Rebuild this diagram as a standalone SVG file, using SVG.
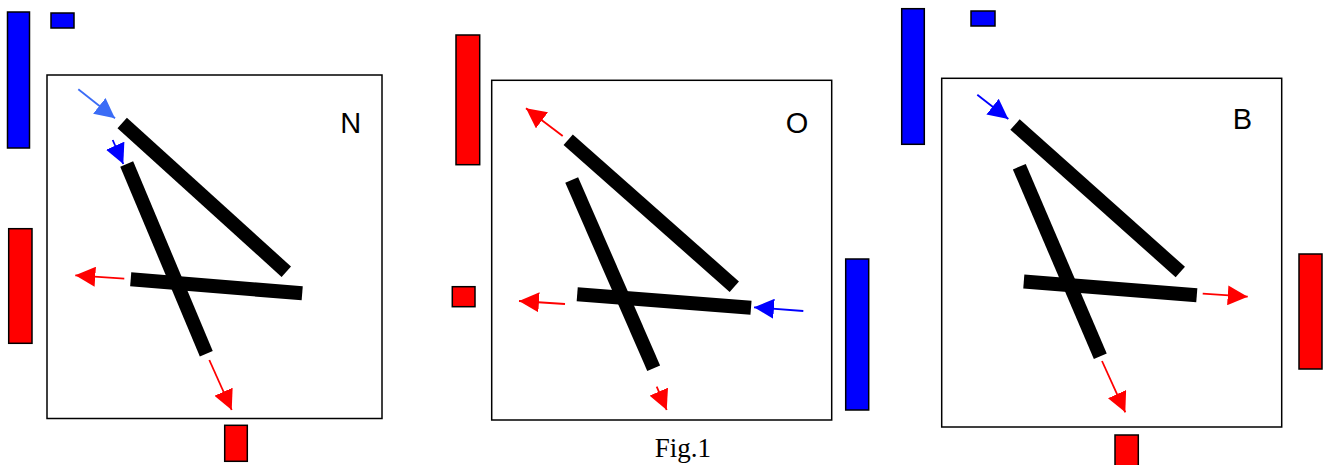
<svg xmlns="http://www.w3.org/2000/svg" width="1325" height="465" viewBox="0 0 1325 465">
<style>
.frame{fill:#fff;stroke:#000;stroke-width:1.5}
.rr{fill:#f00;stroke:#000;stroke-width:1.5}
.rb{fill:#00f;stroke:#000;stroke-width:1.5}
.bar{stroke:#000;stroke-width:14;stroke-linecap:butt;fill:none}
.ar{stroke:#f00;stroke-width:1.8;fill:none;marker-end:url(#hr)}
.ab{stroke:#00f;stroke-width:1.8;fill:none;marker-end:url(#hb)}
.al{stroke:#3b6cf6;stroke-width:1.8;fill:none;marker-end:url(#hl)}
.lbl{font-family:"Liberation Sans",Arial,sans-serif;font-size:29px;fill:#000;text-anchor:middle}
.cap{font-family:"Liberation Serif","Times New Roman",serif;font-size:27px;fill:#000;text-anchor:middle}
</style>
<defs>
<marker id="hr" markerUnits="userSpaceOnUse" markerWidth="20" markerHeight="20" viewBox="0 0 20 20" refX="20" refY="10" orient="auto"><path d="M0,0L20,10L0,20z" fill="#f00"/></marker>
<marker id="hb" markerUnits="userSpaceOnUse" markerWidth="20" markerHeight="20" viewBox="0 0 20 20" refX="20" refY="10" orient="auto"><path d="M0,0L20,10L0,20z" fill="#00f"/></marker>
<marker id="hl" markerUnits="userSpaceOnUse" markerWidth="20" markerHeight="20" viewBox="0 0 20 20" refX="20" refY="10" orient="auto"><path d="M0,0L20,10L0,20z" fill="#3b6cf6"/></marker>
</defs>
<rect width="1325" height="465" fill="#fff"/>

<g id="panelN">
<rect class="frame" x="47" y="75" width="335" height="343.5"/>
<rect class="rb" x="7.5" y="12" width="22" height="136"/>
<rect class="rb" x="51" y="13" width="23" height="15"/>
<rect class="rr" x="8.7" y="228.7" width="23.3" height="114.6"/>
<rect class="rr" x="224.7" y="425.3" width="22.6" height="36"/>
<line class="bar" x1="122.2" y1="123" x2="286.3" y2="271.7"/>
<line class="bar" x1="126.7" y1="164" x2="206.3" y2="353.7"/>
<line class="bar" x1="130.7" y1="279.3" x2="302.2" y2="293.3"/>
<text class="lbl" x="350.7" y="132.7">N</text>
</g>

<g id="panelO">
<rect class="frame" x="491.7" y="80.3" width="340" height="339.7"/>
<rect class="rr" x="456" y="35" width="23.7" height="129.7"/>
<rect class="rr" x="452.3" y="286.7" width="22.7" height="20"/>
<rect class="rb" x="845.7" y="259" width="23" height="151"/>
<line class="bar" x1="568.2" y1="139.8" x2="734.3" y2="286.7"/>
<line class="bar" x1="571.7" y1="180" x2="653.7" y2="368.3"/>
<line class="bar" x1="577.2" y1="294.2" x2="751" y2="307.8"/>
<text class="lbl" x="797" y="132.7">O</text>
</g>

<g id="panelB">
<rect class="frame" x="941.7" y="78.3" width="340" height="348.7"/>
<rect class="rb" x="901.7" y="8.7" width="22.6" height="135.6"/>
<rect class="rb" x="971" y="11" width="24" height="15"/>
<rect class="rr" x="1299" y="254" width="23" height="115"/>
<rect class="rr" x="1115" y="435" width="23.3" height="35"/>
<line class="bar" x1="1015" y1="124.5" x2="1180.3" y2="272"/>
<line class="bar" x1="1019.3" y1="166.7" x2="1100.3" y2="356.2"/>
<line class="bar" x1="1023.8" y1="281.5" x2="1196.8" y2="295.2"/>
<text class="lbl" x="1242.5" y="129.3">B</text>
</g>

<g id="connectors">
<line class="al" x1="78.3" y1="89.3" x2="115" y2="118.3"/>
<line class="ab" x1="112.7" y1="140" x2="123.3" y2="164"/>
<line class="ar" x1="124.3" y1="278.7" x2="75.3" y2="275.3"/>
<line class="ar" x1="209.3" y1="360" x2="231.7" y2="410"/>

<line class="ar" x1="562.7" y1="136" x2="526" y2="108.3"/>
<line class="ar" x1="565" y1="304" x2="519" y2="301"/>
<line class="ar" x1="656.7" y1="386.7" x2="666.7" y2="410"/>
<line class="ab" x1="803.3" y1="311" x2="754" y2="307.3"/>

<line class="ab" x1="977.3" y1="94.7" x2="1008.3" y2="119"/>
<line class="ar" x1="1202.7" y1="293.7" x2="1247.7" y2="296.7"/>
<line class="ar" x1="1102" y1="361" x2="1125.3" y2="412.3"/>
</g>

<text class="cap" x="682.8" y="456.7">Fig.1</text>
</svg>
